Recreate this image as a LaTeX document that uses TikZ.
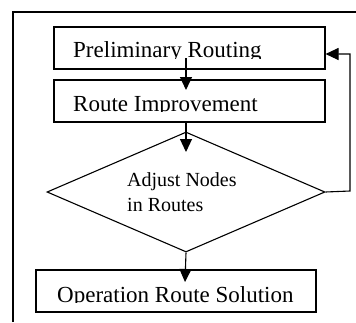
\documentclass[tikz,border=0pt]{standalone}
\usepackage{fontspec}
\setmainfont{Liberation Serif}
\usetikzlibrary{shapes.geometric,arrows.meta}
\begin{document}
\begin{tikzpicture}[x=1pt,y=-1pt,
  box/.style={draw,line width=1.1pt,rectangle,inner sep=0pt,minimum height=42pt},
  boxtext/.style={anchor=base west,inner sep=0pt,font=\fontsize{23}{25}\selectfont},
  dtext/.style={anchor=base west,inner sep=0pt,font=\fontsize{20}{24}\selectfont},
  conn/.style={line width=1.1pt,-{Triangle[length=13pt,width=12pt]}},
  frame/.style={line width=1.3pt}]
\useasboundingbox (0,0) rectangle (356,322);
% frame
\coordinate (f1) at (13,322);
\coordinate (f2) at (13,12);
\coordinate (f3) at (356,12);
\draw[frame] (f1) -- (f2) -- (f3);
% boxes
\node[box,minimum width=271pt] (b1) at (189.5,48) {};
\node[box,minimum width=271pt] (b2) at (189.5,101) {};
\node[box,minimum width=280pt] (b3) at (176,291) {};
\node[draw,line width=1.1pt,diamond,inner sep=0pt,minimum width=278pt,minimum height=120pt] (d) at (186,192) {};
% texts (clipped at baseline as in the reference)
\begin{scope}
\clip (54,27) rectangle (325,58.5);
\node[boxtext] (t1) at (73,57.5) {Preliminary Routing};
\end{scope}
\begin{scope}
\clip (54,80) rectangle (325,111.5);
\node[boxtext] (t2) at (73,111.5) {Route Improvement};
\end{scope}
\begin{scope}
\clip (36,270) rectangle (316,302.5);
\node[boxtext] (t3) at (57,302) {Operation Route Solution};
\end{scope}
\node[dtext] (t4) at (127,186) {Adjust Nodes};
\node[dtext] (t5) at (127,211) {in Routes};
% connectors
\coordinate (a1s) at (186,58);
\coordinate (a1e) at (186,90);
\draw[conn] (a1s) -- (a1e);
\coordinate (a2e) at (186,152);
\draw[conn] (b2.south -| a2e) -- (a2e);
\coordinate (a3e) at (185,282);
\draw[conn] (d.south) -- (a3e);
\coordinate (fbx) at (350,191);
\draw[conn] (d.east) -- (fbx) |- ([yshift=-6pt]b1.east);
\end{tikzpicture}
\end{document}
